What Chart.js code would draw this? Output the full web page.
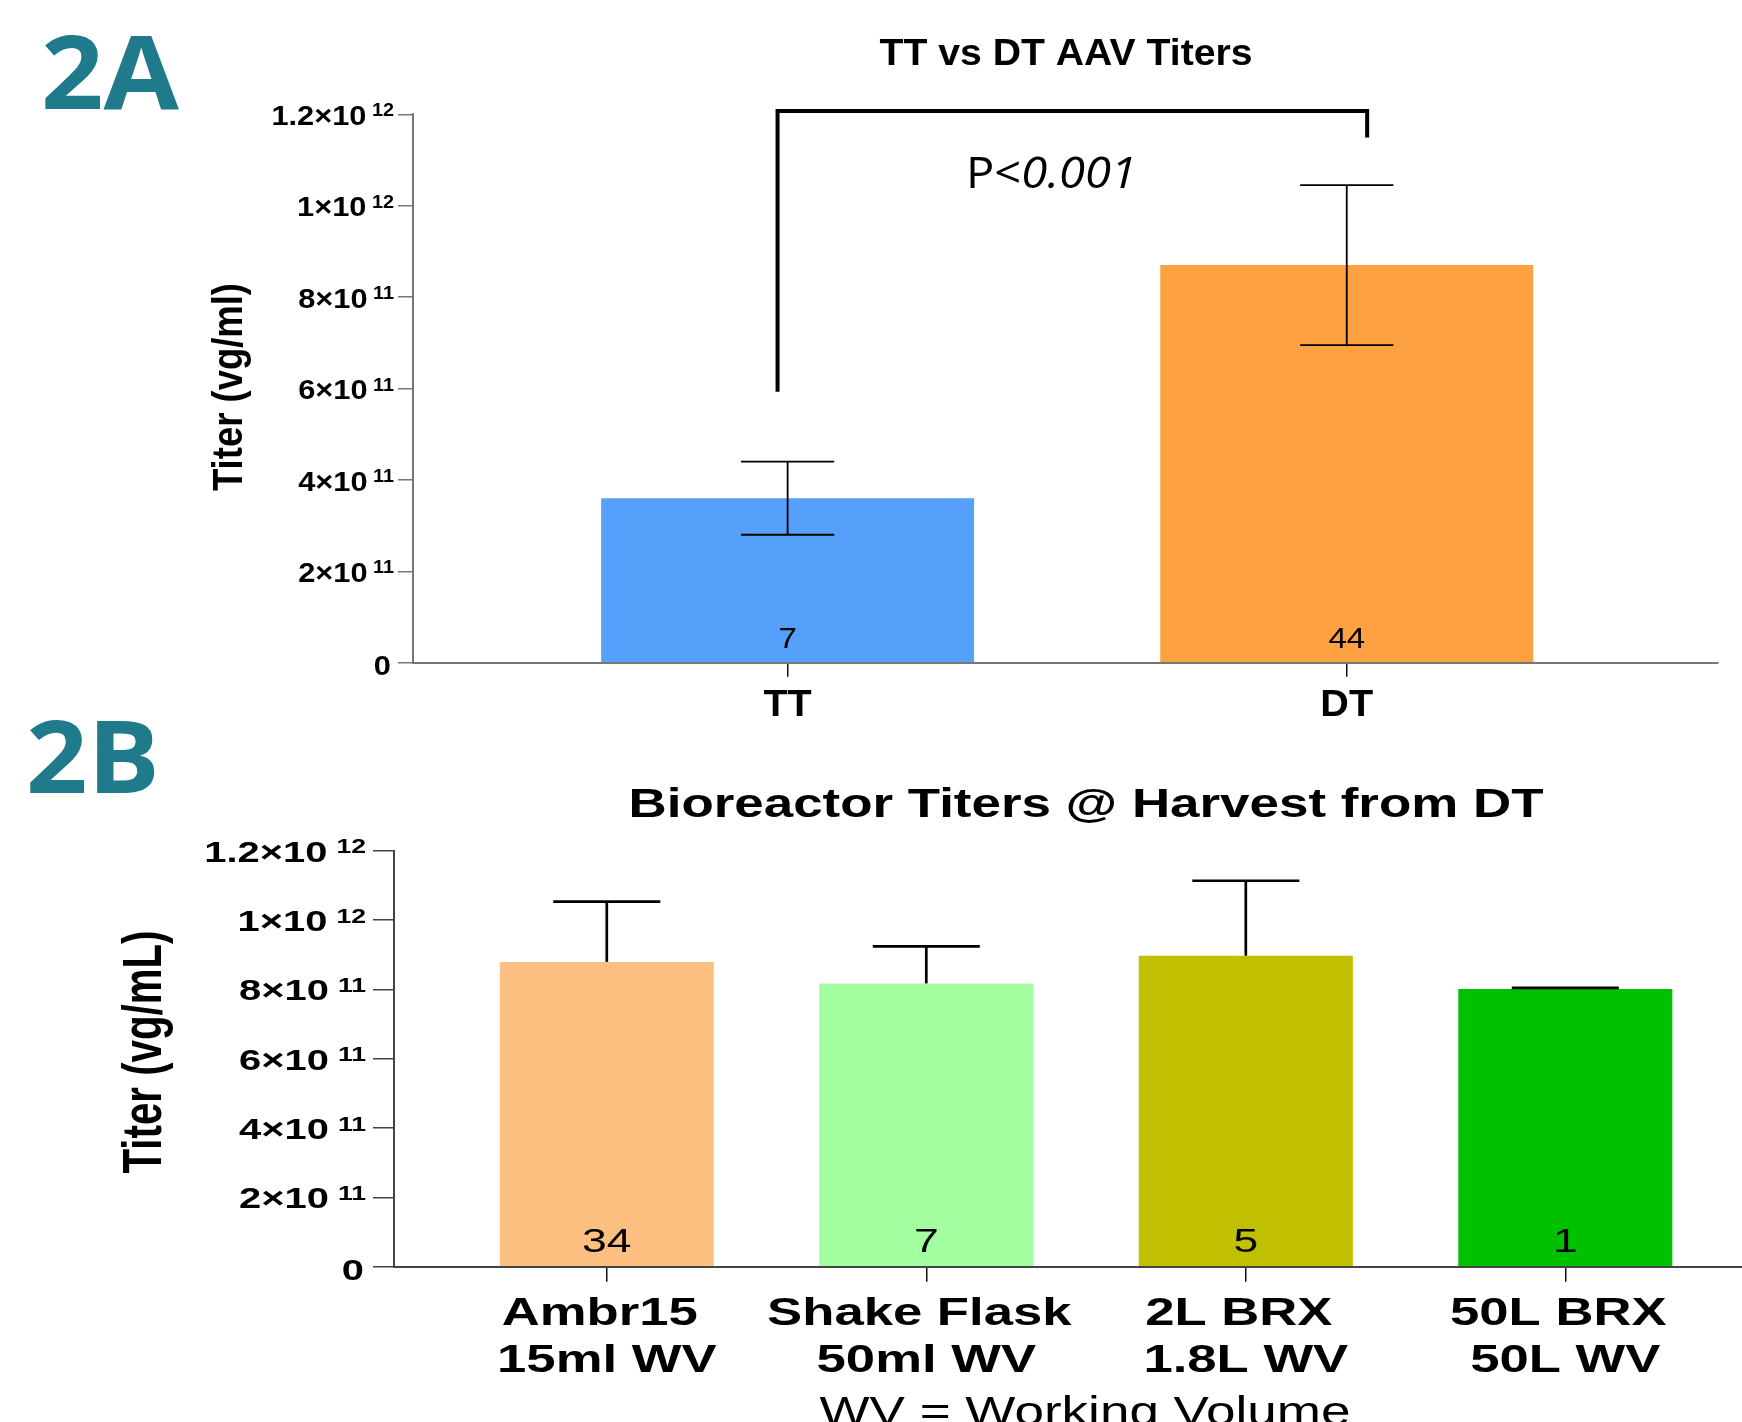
<!DOCTYPE html>
<html>
<head>
<meta charset="utf-8">
<title>AAV titers</title>
<script src="https://cdn.jsdelivr.net/npm/chart.js@4.4.1/dist/chart.umd.min.js"></script>
<style>
  html, body { margin: 0; padding: 0; background: #fff; overflow: hidden; }
  #wrap { position: relative; width: 1742px; height: 1422px; }
  canvas { position: absolute; left: 0; top: 0; }
</style>
</head>
<body>
<div id="wrap">
  <canvas id="chartA" width="1742" height="1422"></canvas>
  <canvas id="chartB" width="1742" height="1422"></canvas>
</div>
<script>
// --- data, panel 2A
var catsA = ['TT', 'DT'];
var titerA = [3.6e11, 8.7e11];
var sdA = [0.8e11, 1.75e11];
var nA = [7, 44];

// --- data, panel 2B
var catsB = [['Ambr15', '15ml WV'], ['Shake Flask', '50ml WV'], ['2L BRX', '1.8L WV'], ['50L BRX', '50L WV']];
var titerB = [8.79e11, 8.17e11, 8.97e11, 8.01e11];
var errB = [1.74e11, 1.07e11, 2.16e11, 0.03e11];
var nB = [34, 7, 5, 1];

// shared y ticks
var yTicks = [0, 2e11, 4e11, 6e11, 8e11, 1e12, 1.2e12];

var colorsA = ['#55a0fb', '#fea142'];
var colorsB = ['#fec080', '#a2fe9f', '#c0c000', '#00c000'];
var teal = '#1f7b8c';
var sans = '"Liberation Sans", Arial, sans-serif';

// text helper: stretch horizontally (in text space) by sx, or to a target width
function drawText(ctx, s, x, y, font, o) {
  o = o || {};
  ctx.save();
  ctx.translate(x, y);
  if (o.rot) ctx.rotate(o.rot);
  ctx.font = font;
  var w = ctx.measureText(s).width;
  var sx = o.width ? o.width / w : (o.sx || 1);
  ctx.scale(sx, 1);
  ctx.textAlign = o.align || 'center';
  ctx.textBaseline = 'alphabetic';
  ctx.fillStyle = o.color || '#000';
  ctx.fillText(s, 0, 0);
  ctx.restore();
  return w * sx;
}

// "m×10^e" labels on the y axis
function drawPowTicks(chart, o) {
  var ctx = chart.ctx, ys = chart.scales.y;
  ys.ticks.forEach(function (t) {
    var py = ys.getPixelForValue(t.value);
    if (t.value === 0) {
      drawText(ctx, '0', o.zeroX, py + o.zeroDy, o.font, { align: 'right', sx: o.sx });
      return;
    }
    var e = Math.floor(Math.log10(t.value) + 1e-9);
    var m = Math.round(t.value / Math.pow(10, e) * 10) / 10;
    var ew = drawText(ctx, String(e), o.right, py + o.expDy, o.expFont, { align: 'right', sx: o.sx });
    drawText(ctx, m + '\u00d710', o.right - ew - o.gap, py + o.dy, o.font, { align: 'right', sx: o.sx });
  });
}

function line(ctx, x1, y1, x2, y2) {
  ctx.beginPath();
  ctx.moveTo(x1, y1);
  ctx.lineTo(x2, y2);
  ctx.stroke();
}

function axes(o) {
  return {
    x: {
      type: 'linear', min: o.xmin, max: o.xmax, offset: false,
      afterBuildTicks: function (s) { s.ticks = o.cats.map(function (c, i) { return { value: i }; }); },
      afterFit: function (s) { s.height = o.xh; },
      ticks: { display: false },
      grid: { offset: false, drawOnChartArea: false, drawTicks: true, tickLength: o.xtl, color: '#111', lineWidth: 1.5 },
      border: { color: o.axisColor, width: 2, z: 1 }
    },
    y: {
      min: 0, max: 1.2e12,
      afterBuildTicks: function (s) { s.ticks = yTicks.map(function (v) { return { value: v }; }); },
      afterFit: function (s) { s.width = o.yw; },
      ticks: { display: false },
      grid: { drawOnChartArea: false, drawTicks: true, tickLength: o.ytl, color: o.axisColor, lineWidth: 1.5 },
      border: { color: o.axisColor, width: 2, z: 1 }
    }
  };
}

// ---------- 2A
var panelA = {
  id: 'panelA',
  afterDatasetsDraw: function (chart) {
    var ctx = chart.ctx, ys = chart.scales.y;
    var meta = chart.getDatasetMeta(0);
    ctx.save();
    ctx.strokeStyle = '#000';
    ctx.lineWidth = 1.8;
    meta.data.forEach(function (bar, i) {
      var yt = ys.getPixelForValue(titerA[i] + sdA[i]);
      var yb = ys.getPixelForValue(titerA[i] - sdA[i]);
      var hw = bar.width / 8;
      line(ctx, bar.x, yt, bar.x, yb);
      line(ctx, bar.x - hw, yt, bar.x + hw, yt);
      line(ctx, bar.x - hw, yb, bar.x + hw, yb);
    });
    ctx.restore();
  },
  afterDraw: function (chart) {
    var ctx = chart.ctx, xs = chart.scales.x, ys = chart.scales.y;
    var meta = chart.getDatasetMeta(0);

    // significance bracket
    ctx.save();
    ctx.strokeStyle = '#000';
    ctx.lineWidth = 4;
    ctx.lineJoin = 'miter';
    ctx.beginPath();
    ctx.moveTo(xs.getPixelForValue(-0.018), ys.getPixelForValue(0.593e12));
    ctx.lineTo(xs.getPixelForValue(-0.018), ys.getPixelForValue(1.207e12));
    ctx.lineTo(xs.getPixelForValue(1.0365), ys.getPixelForValue(1.207e12));
    ctx.lineTo(xs.getPixelForValue(1.0365), ys.getPixelForValue(1.149e12));
    ctx.stroke();
    ctx.restore();

    // P value: upright "P<", italic number, a bit wide
    ctx.save();
    ctx.translate(966, 188);
    ctx.scale(1.07, 1);
    ctx.font = '44px "Open Sans", sans-serif';
    ctx.textAlign = 'left';
    ctx.fillStyle = '#000';
    ctx.fillText('P<', 0, 0);
    var pw = ctx.measureText('P<').width;
    ctx.font = 'italic 44px "Open Sans", sans-serif';
    ctx.fillText('0.001', pw, 0);
    ctx.restore();

    drawText(ctx, '2A', 110, 109, 'bold 102px "Open Sans", sans-serif', { color: teal, width: 138 });
    drawText(ctx, 'TT vs DT AAV Titers', 1066, 65, 'bold 37px ' + sans, { width: 373 });
    drawText(ctx, 'Titer (vg/ml)', 242, 387, 'bold 42px ' + sans, { rot: -Math.PI / 2, width: 208 });

    meta.data.forEach(function (bar, i) {
      drawText(ctx, catsA[i], bar.x, 716, 'bold 37px ' + sans, { sx: 1.07 });
      drawText(ctx, String(nA[i]), bar.x, 648, '30px ' + sans, { sx: 1.1 });
    });

    drawPowTicks(chart, {
      font: 'bold 28px ' + sans, expFont: 'bold 18px ' + sans,
      right: 394, gap: 5.5, dy: 10.7, expDy: 2, sx: 1.1, zeroX: 391, zeroDy: 12
    });
  }
};

new Chart(document.getElementById('chartA'), {
  type: 'bar',
  data: {
    datasets: [{
      data: catsA.map(function (c, i) { return { x: i, y: titerA[i] }; }),
      backgroundColor: colorsA,
      borderWidth: 0,
      categoryPercentage: 1,
      barPercentage: 0.667
    }]
  },
  options: {
    responsive: false,
    animation: false,
    events: [],
    layout: { padding: { top: 114.3, right: 24, left: 0, bottom: 0 } },
    plugins: { legend: { display: false }, tooltip: { enabled: false } },
    scales: axes({ cats: catsA, xmin: -0.67, xmax: 1.664, xh: 1422 - 662.7, xtl: 14, yw: 413, ytl: 15, axisColor: '#777' })
  },
  plugins: [panelA]
});

// ---------- 2B
var panelB = {
  id: 'panelB',
  afterDatasetsDraw: function (chart) {
    var ctx = chart.ctx, ys = chart.scales.y;
    var meta = chart.getDatasetMeta(0);
    ctx.save();
    ctx.strokeStyle = '#000';
    ctx.lineWidth = 2.7;
    meta.data.forEach(function (bar, i) {
      var yt = ys.getPixelForValue(titerB[i] + errB[i]);
      var y0 = ys.getPixelForValue(titerB[i]);
      var hw = bar.width / 4;
      line(ctx, bar.x, y0, bar.x, yt);
      line(ctx, bar.x - hw, yt, bar.x + hw, yt);
    });
    ctx.restore();
  },
  afterDraw: function (chart) {
    var ctx = chart.ctx;
    var meta = chart.getDatasetMeta(0);

    drawText(ctx, '2B', 93, 793, 'bold 100px "Open Sans", sans-serif', { color: teal, width: 134 });
    drawText(ctx, 'Bioreactor Titers @ Harvest from DT', 1086, 817, 'bold 40px ' + sans, { width: 915 });
    drawText(ctx, 'Titer (vg/mL)', 161, 1052, 'bold 56px ' + sans, { rot: -Math.PI / 2, width: 243 });

    meta.data.forEach(function (bar, i) {
      drawText(ctx, catsB[i][0], bar.x - 7, 1325, 'bold 39px ' + sans, { sx: 1.35 });
      drawText(ctx, catsB[i][1], bar.x, 1372, 'bold 39px ' + sans, { sx: 1.35 });
      drawText(ctx, String(nB[i]), bar.x, 1252, '33px ' + sans, { sx: 1.35 });
    });

    drawText(ctx, 'WV = Working Volume', 1085, 1425, '40px ' + sans, { width: 531 });

    drawPowTicks(chart, {
      font: 'bold 30px ' + sans, expFont: 'bold 20px ' + sans,
      right: 366, gap: 9, dy: 11, expDy: 2.7, sx: 1.33, zeroX: 364, zeroDy: 13.3
    });
  }
};

new Chart(document.getElementById('chartB'), {
  type: 'bar',
  data: {
    datasets: [{
      data: catsB.map(function (c, i) { return { x: i, y: titerB[i] }; }),
      backgroundColor: colorsB,
      borderWidth: 0,
      categoryPercentage: 1,
      barPercentage: 0.67
    }]
  },
  options: {
    responsive: false,
    animation: false,
    events: [],
    layout: { padding: { top: 850.6, right: 0, left: 0, bottom: 0 } },
    plugins: { legend: { display: false }, tooltip: { enabled: false } },
    scales: axes({ cats: catsB, xmin: -0.666, xmax: 3.553, xh: 1422 - 1266.7, xtl: 15, yw: 394, ytl: 21, axisColor: '#444' })
  },
  plugins: [panelB]
});
</script>
</body>
</html>
